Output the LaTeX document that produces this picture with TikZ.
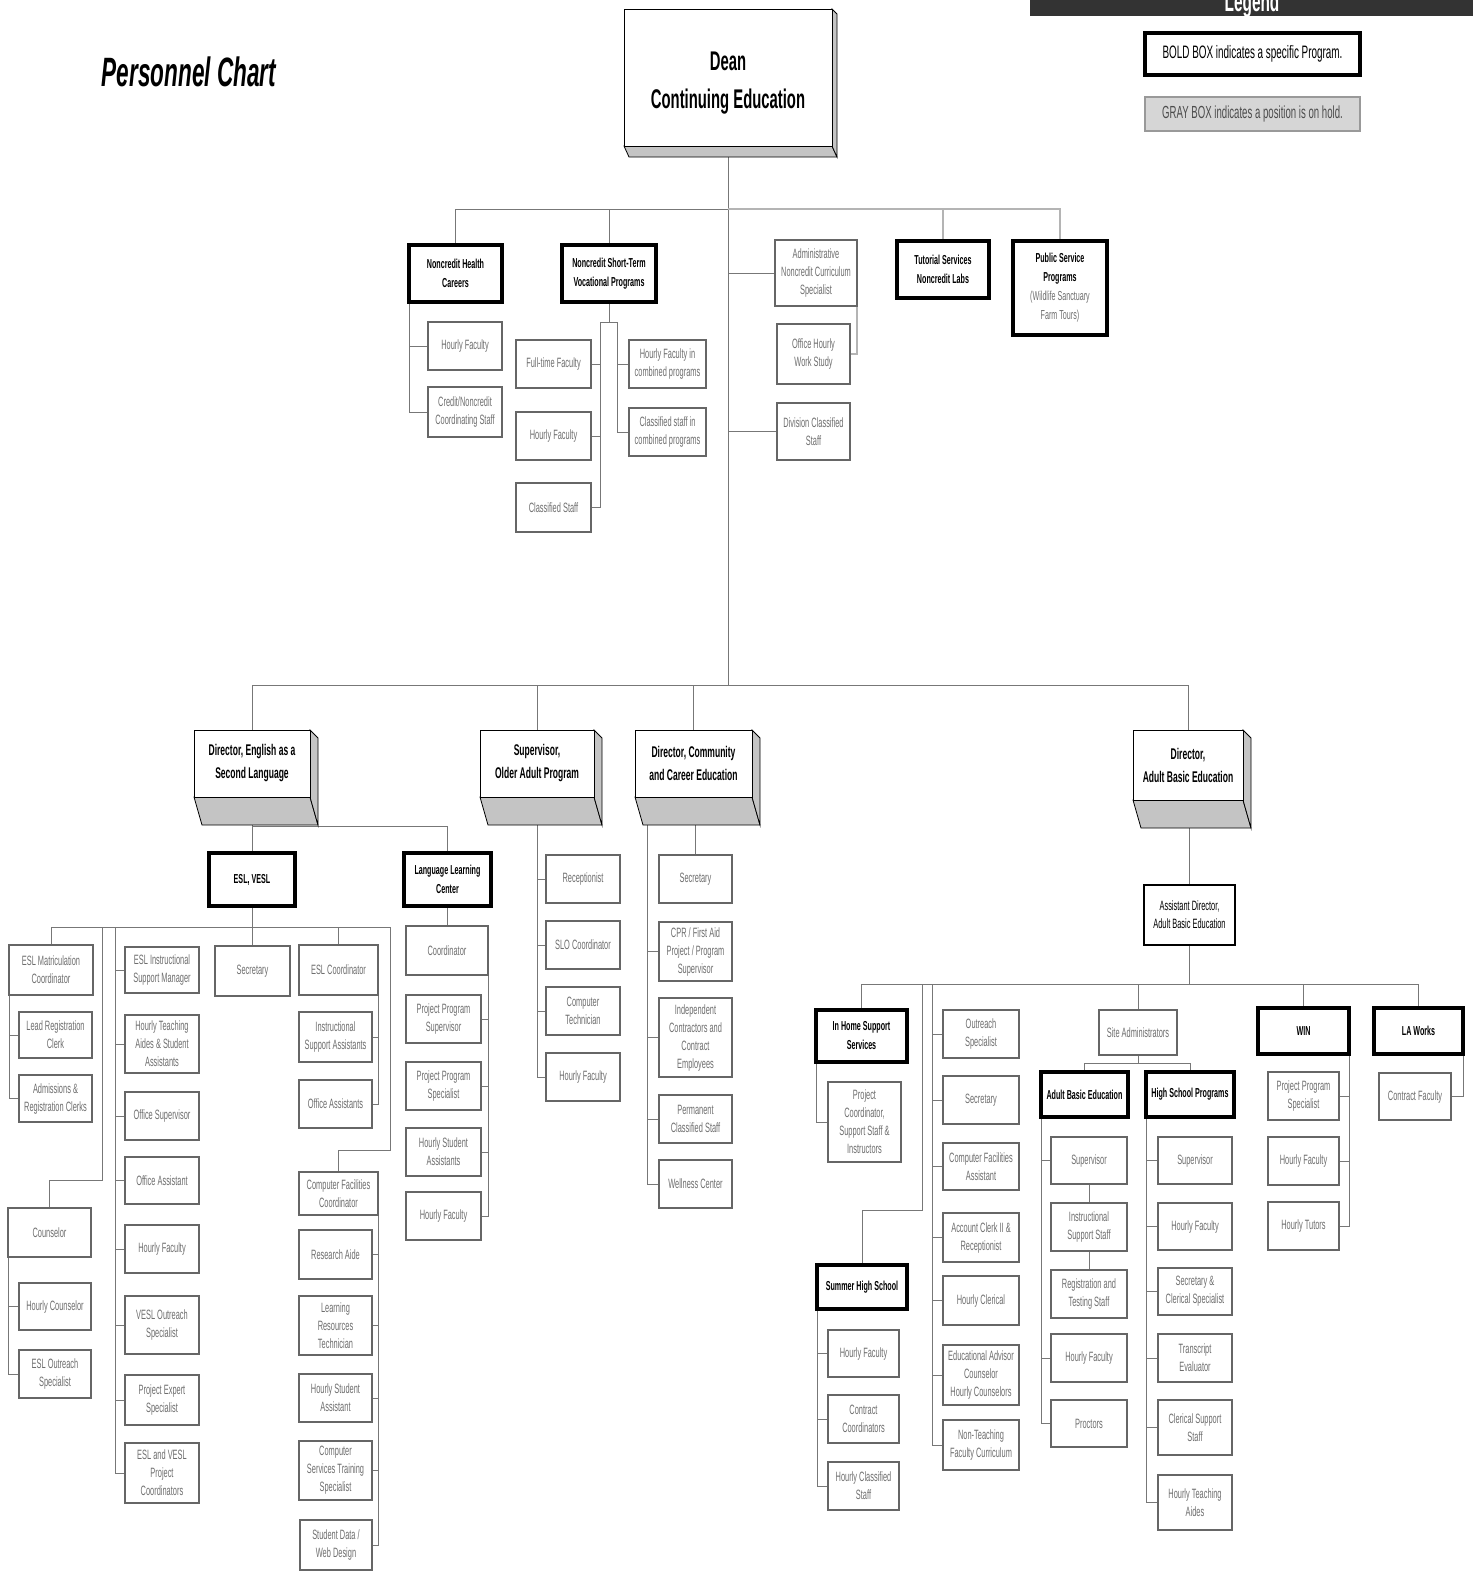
\documentclass[tikz,border=0pt]{standalone}
\usepackage{fontspec}
\setmainfont{Liberation Sans}
\newfontfamily\nr[FakeStretch=0.55]{Liberation Sans}
\usetikzlibrary{backgrounds}
\definecolor{textgray}{HTML}{6E6E6E}
\definecolor{bordergray}{HTML}{666666}
\definecolor{linegray}{HTML}{777777}
\definecolor{extgray}{HTML}{C4C4C4}
\definecolor{legdark}{HTML}{333333}
\definecolor{holdgray}{HTML}{D6D6D6}
\newcommand\mkbox[7]{\node[#2, minimum width={#5-#3}, minimum height={#6-#4}] (#1) at ({(#3+#5)/2},{(#4+#6)/2}) {#7};}
\newcommand\mkext[6]{%
  \filldraw[ext] (#1,#4) -- (#3,#4) -- ({#3+#5},{#4+#6}) -- ({#1+#5},{#4+#6}) -- cycle;
  \filldraw[ext] (#3,#2) -- ({#3+#5},{#2+#5}) -- ({#3+#5},{#4+#6}) -- (#3,#4) -- cycle;}
\tikzset{
  pl/.style={draw=bordergray, line width=1.1pt, fill=white, text=textgray, align=center, inner sep=1pt, outer sep=0pt, font=\nr\fontsize{13.5}{18}\selectfont},
  plk/.style={pl, draw=black, text=black},
  prog/.style={draw=black, line width=4pt, fill=white, text=black, align=center, inner sep=1pt, outer sep=0pt, font=\nr\bfseries\fontsize{13}{19}\selectfont},
  dir/.style={draw=black, line width=0.8pt, fill=white, text=black, align=center, inner sep=1pt, outer sep=0pt, font=\nr\bfseries\fontsize{15.5}{23}\selectfont},
  ext/.style={fill=extgray, draw=black, line width=0.8pt},
  conn/.style={draw=linegray, line width=1pt},
  connlt/.style={draw=linegray!55, line width=1.2pt},
}
\begin{document}
\begin{tikzpicture}[x=1pt,y=-1pt]
\useasboundingbox (0,0) rectangle (1476,1572);
\clip (0,0) rectangle (1476,1572);

% title
\node[font=\nr\bfseries\itshape\fontsize{41}{45}\selectfont] (title) at (189,72) {Personnel Chart};

% legend
\node[fill=legdark, minimum width=443, minimum height=16, inner sep=0pt, outer sep=0pt] (legbar) at (1251.5,7.5) {};
\node[text=white, anchor=base, font=\nr\bfseries\fontsize{28}{30}\selectfont, inner sep=0pt] (legtxt) at (1252,11) {Legend};
\mkbox{legbold}{prog, font=\nr\fontsize{18}{20}\selectfont}{1145}{33}{1360}{75}{BOLD BOX indicates a specific Program.}
\mkbox{leggray}{pl, fill=holdgray, draw=gray!80, text=black!70, font=\nr\fontsize{17.5}{20}\selectfont}{1145}{97}{1360}{131}{GRAY BOX indicates a position is on hold.}

% dean
\mkext{624}{9}{832}{146}{5}{11}
\mkbox{dean}{dir, font=\nr\bfseries\fontsize{27}{38}\selectfont}{624}{9}{832}{146}{\rule{0pt}{30pt}Dean\\Continuing Education}

% row 1
\mkbox{nhc}{prog}{409}{245}{502}{302}{Noncredit Health\\Careers}
\mkbox{nst}{prog}{562}{245}{656}{302}{Noncredit Short-Term\\Vocational Programs}
\mkbox{adm}{pl}{775}{240}{857}{306}{Administrative\\Noncredit Curriculum\\Specialist}
\mkbox{ohw}{pl}{777}{324}{850}{384}{Office Hourly\\Work Study}
\mkbox{dcs}{pl}{777}{403}{850}{460}{Division Classified\\Staff}
\mkbox{tut}{prog}{897}{241}{989}{298}{Tutorial Services\\Noncredit Labs}
\mkbox{psp}{prog}{1013}{241}{1107}{335}{Public Service\\Programs\\{\mdseries\color{textgray}(Wildlife Sanctuary}\\{\mdseries\color{textgray}Farm Tours)}}

\mkbox{nhchf}{pl}{428}{322}{502}{370}{Hourly Faculty}
\mkbox{nhccn}{pl}{428}{387}{502}{437}{Credit/Noncredit\\Coordinating Staff}
\mkbox{nstft}{pl}{516}{340}{591}{388}{Full-time Faculty}
\mkbox{nsthf}{pl}{516}{412}{591}{460}{Hourly Faculty}
\mkbox{nstcs}{pl}{516}{483}{591}{532}{Classified Staff}
\mkbox{nsthc}{pl}{629}{340}{706}{388}{Hourly Faculty in\\combined programs}
\mkbox{nstcc}{pl}{629}{408}{706}{456}{Classified staff in\\combined programs}

% directors
\mkext{194}{730}{310}{797}{8}{28}
\mkbox{desl}{dir}{194}{730}{310}{797}{Director, English as a\\Second Language}
\mkext{480}{730}{594}{797}{8}{28}
\mkbox{doa}{dir}{480}{730}{594}{797}{Supervisor,\\Older Adult Program}
\mkext{635}{730}{752}{797}{8}{28}
\mkbox{dcc}{dir}{635}{730}{752}{797}{Director, Community\\and Career Education}
\mkext{1133}{730}{1243}{800}{8}{28}
\mkbox{dabe}{dir}{1133}{730}{1243}{800}{Director,\\Adult Basic Education}

% ESL
\mkbox{esl}{prog}{209}{853}{295}{906}{ESL, VESL}
\mkbox{llc}{prog}{404}{853}{491}{906}{Language Learning\\Center}
\mkbox{emc}{pl}{9}{945}{93}{995}{ESL Matriculation\\Coordinator}
\mkbox{lrc}{pl}{19}{1012}{92}{1058}{Lead Registration\\Clerk}
\mkbox{arc}{pl}{19}{1075}{92}{1122}{Admissions \&\\Registration Clerks}
\mkbox{cou}{pl}{8}{1208}{91}{1257}{Counselor}
\mkbox{hco}{pl}{19}{1283}{91}{1330}{Hourly Counselor}
\mkbox{eos}{pl}{19}{1350}{91}{1398}{ESL Outreach\\Specialist}
\mkbox{eism}{pl}{125}{947}{199}{993}{ESL Instructional\\Support Manager}
\mkbox{hta}{pl}{125}{1015}{199}{1073}{Hourly Teaching\\Aides \& Student\\Assistants}
\mkbox{osu}{pl}{125}{1092}{199}{1140}{Office Supervisor}
\mkbox{oas}{pl}{125}{1157}{199}{1204}{Office Assistant}
\mkbox{ehf}{pl}{125}{1225}{199}{1273}{Hourly Faculty}
\mkbox{vos}{pl}{125}{1296}{199}{1354}{VESL Outreach\\Specialist}
\mkbox{pes}{pl}{125}{1375}{199}{1425}{Project Expert\\Specialist}
\mkbox{evp}{pl}{125}{1443}{199}{1503}{ESL and VESL\\Project\\Coordinators}
\mkbox{sec}{pl}{215}{946}{290}{996}{Secretary}
\mkbox{eco}{pl}{299}{945}{378}{995}{ESL Coordinator}
\mkbox{isa}{pl}{299}{1012}{372}{1062}{Instructional\\Support Assistants}
\mkbox{oatwo}{pl}{299}{1080}{372}{1128}{Office Assistants}
\mkbox{cfc}{pl}{299}{1172}{378}{1215}{Computer Facilities\\Coordinator}
\mkbox{rai}{pl}{299}{1230}{372}{1279}{Research Aide}
\mkbox{lrt}{pl}{299}{1296}{372}{1355}{Learning\\Resources\\Technician}
\mkbox{hsa}{pl}{299}{1374}{372}{1422}{Hourly Student\\Assistant}
\mkbox{cst}{pl}{299}{1441}{372}{1500}{Computer\\Services Training\\Specialist}
\mkbox{sdw}{pl}{300}{1520}{372}{1570}{Student Data /\\Web Design}

% LLC
\mkbox{lco}{pl}{406}{926}{488}{975}{Coordinator}
\mkbox{pps}{pl}{406}{995}{481}{1043}{Project Program\\Supervisor}
\mkbox{ppsp}{pl}{406}{1062}{481}{1110}{Project Program\\Specialist}
\mkbox{lhsa}{pl}{406}{1128}{481}{1176}{Hourly Student\\Assistants}
\mkbox{lhf}{pl}{406}{1192}{481}{1240}{Hourly Faculty}

% Older adult
\mkbox{rec}{pl}{546}{855}{620}{903}{Receptionist}
\mkbox{slo}{pl}{546}{921}{620}{969}{SLO Coordinator}
\mkbox{ctc}{pl}{546}{987}{620}{1035}{Computer\\Technician}
\mkbox{ohf}{pl}{546}{1053}{620}{1101}{Hourly Faculty}

% Community
\mkbox{csec}{pl}{659}{855}{732}{903}{Secretary}
\mkbox{cpr}{pl}{659}{922}{732}{981}{CPR / First Aid\\Project / Program\\Supervisor}
\mkbox{ice}{pl}{659}{998}{732}{1077}{Independent\\Contractors and\\Contract\\Employees}
\mkbox{pcs}{pl}{659}{1095}{732}{1143}{Permanent\\Classified Staff}
\mkbox{wel}{pl}{659}{1160}{732}{1208}{Wellness Center}

% ABE
\mkbox{aad}{plk}{1144}{885}{1235}{945}{Assistant Director,\\Adult Basic Education}
\mkbox{ihs}{prog}{816}{1010}{907}{1062}{In Home Support\\Services}
\mkbox{pcsi}{pl}{828}{1082}{901}{1162}{Project\\Coordinator,\\Support Staff \&\\Instructors}
\mkbox{shs}{prog}{817}{1265}{907}{1309}{Summer High School}
\mkbox{shf}{pl}{828}{1330}{899}{1377}{Hourly Faculty}
\mkbox{scc}{pl}{828}{1395}{899}{1443}{Contract\\Coordinators}
\mkbox{shc}{pl}{828}{1462}{899}{1510}{Hourly Classified\\Staff}
\mkbox{ors}{pl}{943}{1010}{1019}{1058}{Outreach\\Specialist}
\mkbox{asec}{pl}{943}{1076}{1019}{1124}{Secretary}
\mkbox{cfa}{pl}{943}{1143}{1019}{1190}{Computer Facilities\\Assistant}
\mkbox{acr}{pl}{943}{1213}{1019}{1262}{Account Clerk II \&\\Receptionist}
\mkbox{hcl}{pl}{943}{1276}{1019}{1325}{Hourly Clerical}
\mkbox{eac}{pl}{943}{1345}{1019}{1405}{Educational Advisor\\Counselor\\Hourly Counselors}
\mkbox{ntf}{pl}{943}{1420}{1019}{1470}{Non-Teaching\\Faculty Curriculum}
\mkbox{sad}{pl}{1099}{1010}{1177}{1055}{Site Administrators}
\mkbox{abp}{prog}{1041}{1072}{1128}{1117}{Adult Basic Education}
\mkbox{hsp}{prog}{1146}{1072}{1234}{1117}{High School Programs}
\mkbox{asup}{pl}{1051}{1137}{1127}{1184}{Supervisor}
\mkbox{iss}{pl}{1051}{1203}{1127}{1251}{Instructional\\Support Staff}
\mkbox{rts}{pl}{1051}{1270}{1127}{1318}{Registration and\\Testing Staff}
\mkbox{ahf}{pl}{1051}{1334}{1127}{1382}{Hourly Faculty}
\mkbox{pro}{pl}{1051}{1400}{1127}{1447}{Proctors}
\mkbox{hsup}{pl}{1158}{1137}{1232}{1184}{Supervisor}
\mkbox{hhf}{pl}{1158}{1203}{1232}{1250}{Hourly Faculty}
\mkbox{scs}{pl}{1158}{1268}{1232}{1315}{Secretary \&\\Clerical Specialist}
\mkbox{tev}{pl}{1158}{1334}{1232}{1382}{Transcript\\Evaluator}
\mkbox{css}{pl}{1158}{1400}{1232}{1455}{Clerical Support\\Staff}
\mkbox{htat}{pl}{1158}{1475}{1232}{1530}{Hourly Teaching\\Aides}
\mkbox{win}{prog}{1258}{1008}{1349}{1054}{WIN}
\mkbox{wpp}{pl}{1268}{1072}{1339}{1120}{Project Program\\Specialist}
\mkbox{whf}{pl}{1268}{1137}{1339}{1185}{Hourly Faculty}
\mkbox{wht}{pl}{1268}{1202}{1339}{1250}{Hourly Tutors}
\mkbox{law}{prog}{1374}{1008}{1463}{1054}{LA Works}
\mkbox{lcf}{pl}{1379}{1073}{1451}{1120}{Contract Faculty}

\begin{scope}[on background layer]
\coordinate (busA) at (0,209);
\coordinate (busB) at (0,685);
\draw[conn] (dean.south) -- (dean.south |- busB);
\draw[conn] (nhc.north) -- (nhc.north |- busA) -- (dean.south |- busA);
\draw[conn] (nst.north) -- (nst.north |- busA);
\draw[connlt] (dean.south |- busA) -- (psp.north |- busA) -- (psp.north);
\draw[connlt] (tut.north) -- (tut.north |- busA);
\draw[conn] (dean.south |- adm.west) -- (adm.west);
\draw[conn] (dean.south |- dcs.west) -- (dcs.west);
\draw[connlt] (adm.south east) |- (ohw.east);
\draw[conn] (nhc.south west) |- (nhccn.west);
\draw[conn] (nhc.south west |- nhchf.west) -- (nhchf.west);
\coordinate (nstL) at (600,322);
\coordinate (nstR) at (617,322);
\draw[conn] (nst.south) -- (nst.south |- nstL);
\draw[conn] (nstL) -- (nstR);
\draw[conn] (nstL) |- (nstcs.east);
\draw[conn] (nstL |- nstft.east) -- (nstft.east);
\draw[conn] (nstL |- nsthf.east) -- (nsthf.east);
\draw[conn] (nstR) |- (nstcc.west);
\draw[conn] (nstR |- nsthc.west) -- (nsthc.west);
% second tier
\draw[conn] (desl.north) -- (desl.north |- busB) -- (dabe.north |- busB) -- (dabe.north);
\draw[conn] (doa.north) -- (doa.north |- busB);
\draw[conn] (dcc.north) -- (dcc.north |- busB);
% ESL
\coordinate (eslh) at (0,826);
\coordinate (eslbus) at (0,927);
\coordinate (eslR) at (390,1150);
\coordinate (eslC) at (102,1180);
\coordinate (eslV) at (115,927);
\draw[conn] (desl.south) -- (esl.north);
\draw[conn] (desl.south |- eslh) -| (llc.north);
\draw[conn] (esl.south) -- (esl.south |- eslbus);
\draw[conn] (emc.north) -- (emc.north |- eslbus) -- (eslR |- eslbus) -- (eslR) -| (cfc.north);
\draw[conn] (sec.north) -- (sec.north |- eslbus);
\draw[conn] (eco.north) -- (eco.north |- eslbus);
\draw[conn] (eslC |- eslbus) -- (eslC) -| (cou.north);
\draw[conn] (eslV) |- (evp.west);
\foreach \n in {eism,hta,osu,oas,ehf,vos,pes} \draw[conn] (eslV |- \n.west) -- (\n.west);
\draw[conn] (emc.south west) |- (arc.west);
\draw[conn] (emc.south west |- lrc.west) -- (lrc.west);
\draw[conn] (cou.south west) |- (eos.west);
\draw[conn] (cou.south west |- hco.west) -- (hco.west);
\draw[conn] (eco.south east) |- (oatwo.east);
\draw[conn] (eco.south east |- isa.east) -- (isa.east);
\draw[conn] (cfc.south east) |- (sdw.east);
\foreach \n in {rai,lrt,hsa,cst} \draw[conn] (cfc.south east |- \n.east) -- (\n.east);
% LLC
\draw[conn] (llc.south) -- (llc.south |- lco.north);
\draw[conn] (lco.south east) |- (lhf.east);
\foreach \n in {pps,ppsp,lhsa} \draw[conn] (lco.south east |- \n.east) -- (\n.east);
% Older adult
\draw[conn] (doa.south) |- (ohf.west);
\foreach \n in {rec,slo,ctc} \draw[conn] (doa.south |- \n.west) -- (\n.west);
% Community
\coordinate (ccV) at (647,797);
\draw[conn] (csec.north |- dcc.south) -- (csec.north);
\draw[conn] (ccV) |- (wel.west);
\foreach \n in {cpr,ice,pcs} \draw[conn] (ccV |- \n.west) -- (\n.west);
% ABE
\coordinate (busC) at (0,984);
\coordinate (abeS) at (922,1210);
\coordinate (abeV) at (932,984);
\coordinate (sadbar) at (0,1063);
\draw[conn] (aad.north |- dabe.south) -- (aad.north);
\draw[conn] (aad.south) -- (aad.south |- busC);
\draw[conn] (ihs.north) -- (ihs.north |- busC) -- (law.north |- busC) -- (law.north);
\draw[conn] (sad.north) -- (sad.north |- busC);
\draw[conn] (win.north) -- (win.north |- busC);
\draw[conn] (abeS |- busC) -- (abeS) -| (shs.north);
\draw[conn] (abeV) |- (ntf.west);
\foreach \n in {ors,asec,cfa,acr,hcl,eac} \draw[conn] (abeV |- \n.west) -- (\n.west);
\draw[conn] (ihs.south west) |- (pcsi.west);
\draw[conn] (shs.south west) |- (shc.west);
\foreach \n in {shf,scc} \draw[conn] (shs.south west |- \n.west) -- (\n.west);
\draw[conn] (sad.south) -- (sad.south |- sadbar);
\draw[conn] (abp.north) -- (abp.north |- sadbar) -- (hsp.north |- sadbar) -- (hsp.north);
\draw[conn] (abp.south west) |- (pro.west);
\foreach \n in {asup,ahf} \draw[conn] (abp.south west |- \n.west) -- (\n.west);
\draw[conn] (asup.south) -- (iss.north);
\draw[conn] (iss.south) -- (rts.north);
\draw[conn] (hsp.south west) |- (htat.west);
\foreach \n in {hsup,hhf,scs,tev,css} \draw[conn] (hsp.south west |- \n.west) -- (\n.west);
\draw[conn] (win.south east) |- (wht.east);
\foreach \n in {wpp,whf} \draw[conn] (win.south east |- \n.east) -- (\n.east);
\draw[conn] (law.south east) |- (lcf.east);
\end{scope}
\end{tikzpicture}
\end{document}
